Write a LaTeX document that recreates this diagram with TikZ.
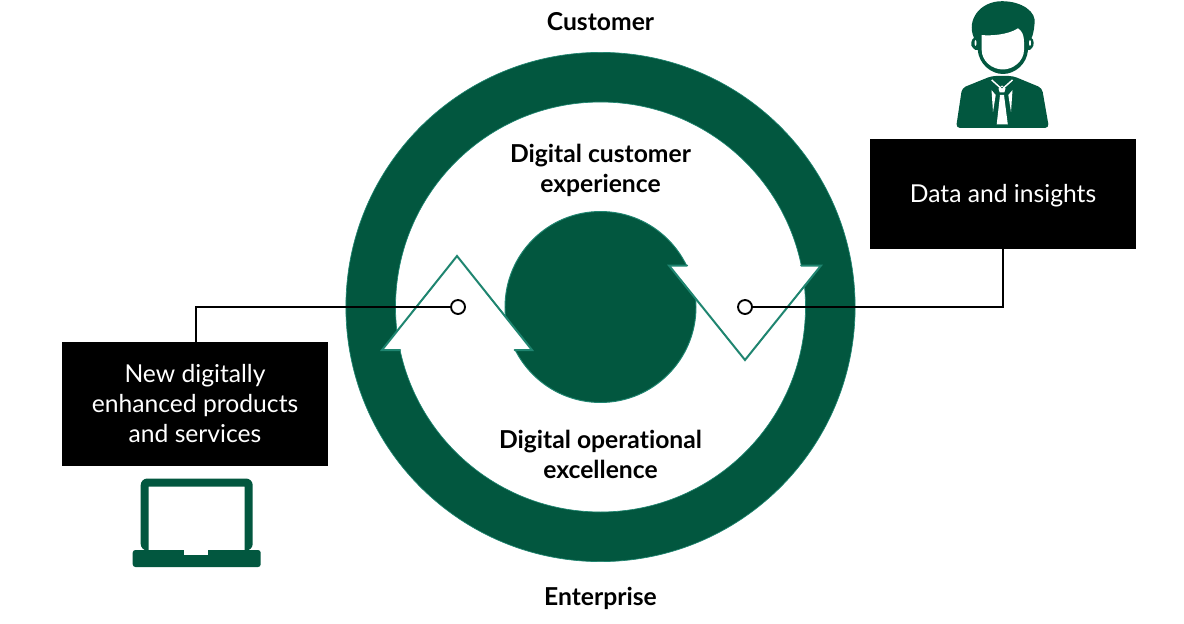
\documentclass[tikz,border=0pt]{standalone}
\usepackage{fontspec}
\setmainfont{Lato}[Ligatures=CommonOff]
\definecolor{dgreen}{HTML}{02573F}
\definecolor{edge}{HTML}{1F8570}
\tikzset{
 label/.style={font=\fontsize{18.5}{22.5}\selectfont\bfseries,align=center,text=black,inner sep=0pt},
 darkbox/.style={fill=black,draw=none,minimum width=199.5pt,inner sep=0pt,font=\fontsize{18.5}{22.5}\selectfont,text=white,align=center},
 wire/.style={draw=black,line width=1.1pt},
 dot/.style={circle,draw=black,fill=white,line width=1.4pt,minimum size=10.5pt,inner sep=0pt},
 head/.style={fill=white,draw=none},
 headedge/.style={draw=edge,line width=1.5pt,line cap=round,line join=miter},
 icon/.style={fill=dgreen,draw=none}
}
\begin{document}
\begin{tikzpicture}[x=0.75pt,y=-0.75pt]
\useasboundingbox (0,0) rectangle (1184,624);
% ring and disc
\fill[dgreen,draw=edge,line width=0.5pt,even odd rule] (600.5,307) circle[radius=254.6] (600.5,307) circle[radius=205];
\fill[dgreen,draw=edge,line width=0.7pt] (600.5,307) circle[radius=95.5];
% left arrow head
\fill[head] (457,256) -- (382,350) -- (532,350) -- cycle;
\draw[headedge] (400,350) -- (382,350) -- (457,256) -- (532,350) -- (514.5,350);
% right arrow head
\fill[head] (745,360) -- (669,265.5) -- (821,265.5) -- cycle;
\draw[headedge] (687,265.5) -- (669,265.5) -- (745,360) -- (821,265.5) -- (801,265.5);
% labels
\node[label] (customer) at (600.5,21.5) {Customer};
\node[label] (dce) at (600.5,170) {Digital customer\\experience};
\node[label] (doe) at (600.5,454) {Digital operational\\excellence};
\node[label] (enterprise) at (600.5,598) {Enterprise};
% boxes
\node[darkbox,minimum height=82.5pt] (insights) at (1003,194) {\raisebox{0pt}[16pt][3.5pt]{Data and insights}};
\node[darkbox,minimum height=93pt] (products) at (195,404) {New digitally\\enhanced products\\\raisebox{0pt}[\height][1.5pt]{and services}};
% connectors
\node[dot] (dl) at (458,307) {};
\node[dot] (dr) at (745,307) {};
\draw[wire] (dl.west) -- (196,307) -- (196,342);
\draw[wire] (dr.east) -- (1003,307) -- (1003,249);
% person: body
\path[icon,rounded corners=3pt] (956,128) -- (962,88) -- (991.7,76) -- (1013,76) -- (1042,88) -- (1049,128) -- cycle;
% person: hair, ears and face outline
\path[icon] (974,38) .. controls (966,20) and (980,1.2) .. (1002,1.2)
  .. controls (1022,1.2) and (1037,12) .. (1034.5,24)
  .. controls (1034,30) and (1033,35) .. (1031.5,38)
  .. controls (1034,39) and (1034.5,46) .. (1032,48)
  .. controls (1031,50) and (1029,50) .. (1028,50)
  .. controls (1027,64) and (1015,74) .. (1003,74)
  .. controls (991,74) and (979,64) .. (977.7,50)
  .. controls (976,50) and (974,50) .. (973,48)
  .. controls (970,46) and (971,39) .. (974,38) -- cycle;
\fill[white] (981.7,35) .. controls (990,36) and (1008,35) .. (1018,28.3)
  .. controls (1022,31) and (1024,35) .. (1024,42)
  -- (1024,50) .. controls (1024,61) and (1013,69.5) .. (1003,69.5)
  .. controls (992,69.5) and (981.7,61) .. (981.7,50) -- cycle;
\fill[white] (975.5,43) ellipse[x radius=1,y radius=3];
\fill[white] (1030,43) ellipse[x radius=1,y radius=3];
% person: collar, knot, shirt and tie
\draw[white,line width=1.1pt] (991.7,80) -- (1004,91);
\draw[white,line width=1.1pt] (1012.5,80) -- (1000,91);
\fill[white] (1002,85.5) -- (1005.5,88.5) -- (1004.3,92.5) -- (999.7,92.5) -- (998.5,88.5) -- cycle;
\fill[dgreen] (1002,87.5) circle[radius=0.9];
\fill[white] (1000,95) -- (996.7,124.5) -- (1007.8,124.5) -- (1004,95) -- cycle;
\fill[white] (991.5,90) -- (993,112) -- (995.7,95) -- cycle;
\fill[white] (1012.5,90) -- (1011,112) -- (1008.3,95) -- cycle;
% laptop
\fill[dgreen,even odd rule,rounded corners=5pt] (140.7,550.5) -- (140.7,478.5) -- (252.7,478.5) -- (252.7,550.5) -- cycle
  [sharp corners] (148.7,486.7) rectangle (244.7,550.5);
\path[icon,rounded corners=2pt] (132.7,550) -- (260.7,550) -- (260.7,567) -- (132.7,567) -- cycle;
\fill[white] (184.3,549.8) rectangle (208.3,554.5);
\end{tikzpicture}
\end{document}
